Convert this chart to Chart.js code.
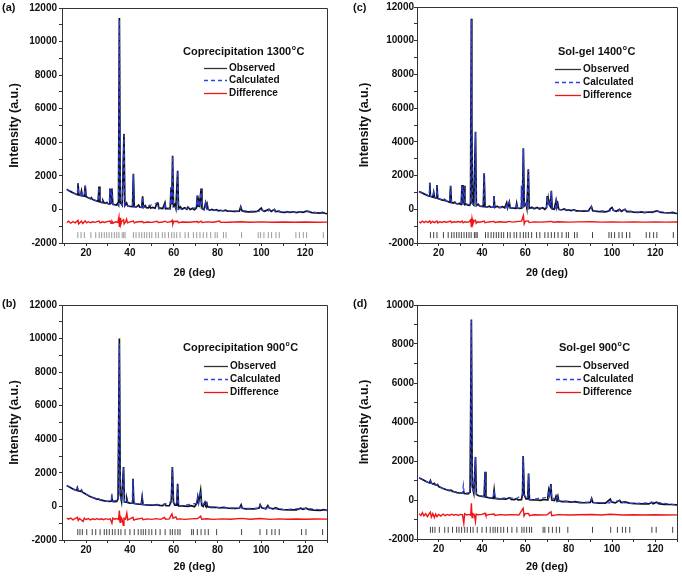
<!DOCTYPE html>
<html>
<head>
<meta charset="utf-8">
<script src="https://cdn.jsdelivr.net/npm/chart.js@4.4.1/dist/chart.umd.min.js"></script>
<style>
body { margin: 0; background: #fff; width: 682px; height: 578px; position: relative; overflow: hidden; font-family: "Liberation Sans", Arial, sans-serif; }
canvas { position: absolute; }
.tag { position: absolute; font-weight: bold; font-size: 11px; color: #111; }
</style>
</head>
<body>
<canvas id="chartA" width="341" height="289" style="left:0;top:0"></canvas>
<canvas id="chartC" width="341" height="289" style="left:341px;top:0"></canvas>
<canvas id="chartB" width="341" height="289" style="left:0;top:289px"></canvas>
<canvas id="chartD" width="341" height="289" style="left:341px;top:289px"></canvas>
<div class="tag" style="left:2px;top:1px">(a)</div>
<div class="tag" style="left:353px;top:1px">(c)</div>
<div class="tag" style="left:2px;top:297px">(b)</div>
<div class="tag" style="left:353px;top:297px">(d)</div>
<script>
// --------------------------------
// Data: [2theta (deg), intensity (a.u.)]
// --------------------------------

// (a) Coprecipitation 1300 C
const obsA = [[11.2,1200],[12,1120],[13,1060],[14,990],[15,930],[15.9,880],[16.3,1560],[16.7,860],[17.5,830],[17.9,1100],[18.3,800],[19.2,790],[19.6,1420],[20,760],[21,700],[22,640],[22.4,700],[22.8,610],[23.5,560],[24.5,520],[25.5,480],[25.9,1360],[26.3,450],[27.3,410],[27.7,520],[28.2,390],[29,360],[29.5,420],[30,340],[30.5,330],[30.9,1250],[31.3,320],[31.8,1250],[32.2,300],[33,280],[33.8,260],[34.3,350],[34.8,250],[35.2,11400],[35.6,400],[36,350],[36.5,250],[37.3,4500],[37.7,230],[38.5,380],[39,200],[40,180],[41.2,170],[41.6,2120],[42,160],[43,150],[44,260],[44.5,140],[45.4,130],[45.8,780],[46.2,120],[47,220],[47.5,100],[48.5,90],[49,200],[49.5,80],[50.5,120],[51.5,70],[52.4,380],[52.8,410],[53.2,60],[54,80],[55,50],[56,400],[56.4,40],[57.5,60],[58.4,40],[58.8,1320],[59.1,300],[59.5,3200],[59.9,200],[60.5,300],[61,60],[61.8,2300],[62.2,40],[63,150],[63.8,20],[65,100],[66,10],[66.5,130],[67.5,0],[68.5,60],[69.5,-10],[70.4,100],[70.8,830],[71.1,200],[71.5,500],[71.9,300],[72.5,1250],[72.9,50],[73.8,-20],[74.6,400],[75,150],[75.3,300],[75.7,0],[76.5,-40],[77.5,0],[78.5,-60],[79.5,-20],[80.5,-80],[81.5,-50],[82.5,-90],[83.5,-40],[84.5,-100],[86,-110],[88,-120],[90,-100],[90.6,160],[91.2,-80],[92.5,-130],[94,-140],[96,-150],[98,-120],[99,-30],[99.5,30],[100,80],[100.5,-50],[101.5,-110],[103,-20],[103.5,10],[104.5,-120],[106,0],[106.5,-130],[108,-100],[109,-160],[111,-170],[112,-130],[113,-180],[114.5,-140],[116,-190],[117.5,-140],[119,-180],[120.5,-100],[121.5,-120],[123,-190],[125,-200],[127,-220],[128,-180],[129,-230],[130,-260]];
const calcA = [[11.2,1180],[13,1050],[15,930],[15.9,880],[16.3,1540],[16.7,860],[17.5,830],[17.9,1080],[18.3,800],[19.2,780],[19.6,1400],[20,760],[22,640],[22.4,690],[22.8,610],[25.5,480],[25.9,1340],[26.3,450],[27.3,410],[27.7,500],[28.2,390],[30.5,330],[30.9,1230],[31.3,320],[31.8,1240],[32.2,300],[34.8,250],[35.2,11300],[35.6,400],[36.5,250],[37.3,4450],[37.7,230],[38.5,340],[39,200],[41.2,170],[41.6,2100],[42,160],[45.4,130],[45.8,760],[46.2,120],[52.4,370],[52.8,400],[53.2,60],[55.6,50],[56,390],[56.4,40],[58.4,40],[58.8,1300],[59.1,300],[59.5,3180],[59.9,200],[61.4,60],[61.8,2280],[62.2,40],[70.4,100],[70.8,820],[71.1,200],[71.5,490],[71.9,300],[72.5,1230],[72.9,50],[74.2,-10],[74.6,390],[75,150],[75.3,290],[75.7,0],[80,-70],[90,-100],[90.6,150],[91.2,-80],[99,-120],[100,70],[100.5,-50],[103,-110],[103.5,0],[104.5,-120],[106,-10],[106.5,-130],[115,-170],[120.5,-110],[121.5,-130],[130,-250]];
const diffA = [[11.2,-780],[12,-700],[13,-820],[14,-720],[15,-800],[16.3,-650],[16.6,-860],[17.9,-700],[18.5,-840],[19.6,-680],[20.2,-800],[21,-730],[22,-790],[23,-740],[24,-770],[25.9,-700],[26.4,-800],[27.5,-740],[28.5,-780],[29.5,-730],[30.9,-690],[31.4,-830],[31.8,-700],[32.4,-810],[33.5,-740],[34.5,-770],[35,-450],[35.2,-1050],[35.5,-500],[35.8,-900],[36.3,-700],[37.1,-620],[37.4,-860],[38,-750],[38.5,-580],[38.9,-800],[40,-740],[41.6,-690],[42,-800],[43,-750],[45.8,-720],[46.2,-790],[48,-750],[50,-770],[52.4,-710],[53,-780],[55,-750],[56,-700],[57,-770],[58.8,-720],[59.3,-650],[59.6,-880],[60,-720],[61.8,-700],[62.2,-790],[64,-750],[67,-760],[70.8,-720],[71.2,-790],[72.5,-700],[73,-780],[75,-740],[78,-760],[81,-690],[81.4,-770],[85,-760],[90.6,-730],[95,-760],[100,-740],[105,-760],[110,-750],[115,-760],[120,-745],[125,-760],[130,-755]];

// (c) Sol-gel 1400 C
const obsC = [[10.9,1050],[12,990],[13,930],[14,870],[15,810],[15.6,780],[15.9,1580],[16.2,770],[17.3,720],[17.7,1000],[18.1,690],[18.8,660],[19.2,1440],[19.6,640],[20.5,600],[21.5,560],[22.5,520],[22.8,560],[23.5,490],[24.5,450],[25.1,420],[25.5,1400],[25.9,400],[26.8,370],[27.5,420],[28,340],[29,320],[29.5,360],[30,300],[30.4,290],[30.8,1440],[31.2,280],[31.7,1400],[32.1,270],[33,300],[33.5,250],[34.3,240],[34.7,350],[35.1,11300],[35.3,5400],[35.6,350],[36.2,260],[37,4600],[37.4,220],[38.2,300],[39,180],[40,170],[40.6,160],[41,2140],[41.4,150],[42.5,140],[43.5,180],[44,130],[45.1,120],[45.5,780],[45.9,110],[47,180],[48,100],[49.5,150],[50.5,90],[51.4,390],[51.8,90],[52.6,430],[53,80],[54.5,70],[55.6,60],[56,350],[56.4,60],[57.5,50],[58,60],[58.3,1400],[58.6,100],[59.1,3620],[59.5,200],[60.3,350],[60.7,80],[61.4,2380],[61.8,50],[63,120],[64,30],[65.5,110],[66.5,20],[68,90],[69,0],[69.8,100],[70.1,780],[70.4,300],[70.6,580],[70.9,300],[71.6,150],[72,1100],[72.4,30],[73.3,0],[74.2,510],[74.6,150],[75,300],[75.4,0],[76.5,-40],[78,20],[79,-60],[80,-30],[81,-80],[82.5,-40],[83.5,-90],[85,-100],[87,-110],[89,-100],[90.5,160],[91.1,-90],[93,-130],[95,-140],[97,-150],[98.5,-100],[99.3,40],[100,100],[100.6,-60],[102,-120],[103.5,0],[104.3,-120],[106,0],[106.8,-140],[108.5,-130],[110,-170],[112,-190],[113.5,-150],[115,-200],[117,-160],[118.5,-180],[120,-120],[121,-90],[122,-170],[124,-200],[126,-220],[128,-190],[129,-230],[130,-250]];
const calcC = [[10.9,1040],[13,930],[15,810],[15.6,780],[15.9,1560],[16.2,770],[17.3,720],[17.7,980],[18.1,690],[18.8,660],[19.2,1420],[19.6,640],[22.4,530],[22.8,550],[23.2,510],[25.1,420],[25.5,1380],[25.9,400],[27.5,400],[28,340],[30.4,290],[30.8,1420],[31.2,280],[31.7,1380],[32.1,270],[34.7,300],[35.1,11250],[35.3,5400],[35.6,350],[36.6,240],[37,4580],[37.4,220],[38.2,280],[39,180],[40.6,160],[41,2120],[41.4,150],[45.1,120],[45.5,770],[45.9,110],[51,90],[51.4,380],[51.8,90],[52.6,420],[53,80],[55.6,60],[56,340],[56.4,60],[58,60],[58.3,1380],[58.6,100],[59.1,3600],[59.5,200],[60.3,330],[60.7,80],[61.4,2360],[61.8,50],[69.8,100],[70.1,770],[70.4,300],[70.6,570],[70.9,300],[71.6,150],[72,1090],[72.4,30],[73.8,0],[74.2,500],[74.6,150],[75,290],[75.4,0],[82,-60],[90,-100],[90.5,150],[91.1,-90],[99,-110],[100,90],[100.6,-60],[103,-120],[103.5,-10],[104.3,-120],[106,-10],[106.8,-140],[115,-180],[120,-120],[121,-100],[122,-170],[130,-250]];
const diffC = [[10.9,-740],[11.7,-800],[12.5,-700],[13.3,-790],[14.1,-710],[15,-780],[15.9,-690],[16.3,-820],[17.2,-720],[18,-790],[19.2,-700],[19.6,-810],[20.5,-740],[21.5,-780],[22.5,-730],[23.5,-770],[24.5,-740],[25.5,-700],[25.9,-790],[27,-740],[28,-770],[29,-730],[30,-770],[30.8,-700],[31.3,-800],[32,-740],[33,-770],[34,-750],[34.8,-620],[35.1,-1060],[35.4,-560],[35.8,-880],[36.3,-700],[37,-650],[37.3,-830],[38,-740],[39,-770],[41,-700],[41.4,-800],[43,-750],[45.5,-720],[46,-780],[48,-740],[51,-770],[52.6,-720],[54,-760],[56,-730],[58.3,-700],[59.1,-380],[59.5,-860],[60,-700],[61.4,-690],[61.8,-790],[64,-750],[67,-760],[70,-740],[72,-720],[73,-770],[75,-740],[80,-760],[85,-745],[90.5,-740],[95,-760],[100,-745],[105,-760],[110,-750],[115,-760],[120,-750],[125,-760],[130,-755]];

// (b) Coprecipitation 900 C
const obsB = [[11.2,1250],[12,1180],[13,1110],[14,1040],[15,980],[15.7,950],[16,1100],[16.4,930],[17.5,900],[17.9,960],[18.3,850],[19,800],[20,720],[21,650],[22,580],[23,530],[24,480],[25,430],[25.7,450],[26.3,390],[27.5,360],[28.5,330],[29.5,310],[30.5,300],[31.4,310],[31.8,460],[32.2,300],[33,290],[34,300],[34.6,450],[35.2,10000],[35.6,700],[36.2,300],[37.1,2350],[37.5,260],[38.3,250],[38.6,450],[39,230],[40,200],[41,190],[41.4,1650],[41.8,180],[43,150],[44.5,130],[45.2,120],[45.6,560],[46,110],[47.5,90],[49,80],[50.5,70],[52.3,110],[53.5,60],[55,50],[56,150],[56.5,40],[58,40],[58.9,300],[59.4,2350],[59.9,250],[60.5,80],[61.4,80],[61.8,1350],[62.2,30],[63.5,30],[65,20],[66.5,0],[68,50],[69.5,-20],[70.6,200],[71,560],[71.4,250],[72.3,950],[72.8,50],[73.5,0],[74.3,250],[74.7,100],[75.1,200],[75.5,-20],[77,-60],[79,-50],[81,-90],[83,-60],[85,-110],[87.5,-120],[90,-110],[90.8,100],[91.3,-110],[93,-140],[95,-150],[97,-150],[99,-100],[99.5,100],[100.2,-80],[102,-140],[103,50],[103.7,-100],[105.5,-150],[106.5,-80],[108,-160],[110,-190],[113,-200],[116,-210],[118,-110],[119,-170],[120.5,-100],[121.5,-180],[124,-220],[127,-230],[128.5,-190],[130,-240]];
const calcB = [[11.2,1240],[13,1110],[15,980],[15.7,950],[16,1120],[16.4,930],[17.5,900],[17.9,1000],[18.3,850],[20,720],[22,580],[25,430],[25.7,460],[26.3,390],[30,300],[31.4,310],[31.8,760],[32.2,300],[34.6,420],[35.2,9700],[35.6,650],[36.4,280],[37.1,2300],[37.5,260],[38.3,240],[38.6,380],[39,230],[41,190],[41.4,1620],[41.8,180],[45.2,120],[45.6,550],[46,110],[52.3,100],[56,130],[58.9,290],[59.4,2320],[59.9,240],[61.4,80],[61.8,1330],[62.2,30],[70.6,190],[71,550],[71.4,240],[72.3,930],[72.8,50],[74.3,240],[74.7,100],[75.1,190],[75.5,-20],[82,-80],[90,-110],[90.8,90],[91.3,-110],[99,-110],[99.5,90],[100.2,-80],[102.5,-140],[103,40],[103.7,-100],[110,-190],[118,-120],[120.5,-110],[130,-240]];
const diffB = [[11.2,-700],[12,-760],[13,-690],[14,-800],[15,-720],[16,-650],[16.4,-830],[17,-720],[18,-820],[18.6,-900],[19.2,-700],[20,-780],[21,-720],[22,-800],[23,-740],[24,-780],[25,-720],[26,-780],[27,-740],[28,-790],[29,-730],[30,-770],[31,-740],[31.8,-1000],[32.2,-700],[33,-760],[34,-720],[34.8,-780],[35.2,-250],[35.5,-950],[35.9,-650],[36.5,-780],[37,-1120],[37.3,-700],[38,-760],[38.6,-400],[39,-800],[40,-740],[41.4,-650],[41.8,-820],[43,-760],[45.6,-700],[46,-790],[48,-740],[50,-770],[52,-730],[54,-770],[55.8,-660],[56.3,-760],[58,-740],[59.2,-450],[59.7,-700],[61,-620],[61.5,-760],[63,-740],[65,-770],[68,-740],[71,-720],[72.3,-580],[72.8,-760],[75,-730],[78,-770],[82,-740],[86,-760],[90.8,-710],[95,-760],[99.5,-720],[104,-770],[108,-740],[112,-760],[116,-745],[120,-760],[125,-750],[130,-755]];

// (d) Sol-gel 900 C
const obsD = [[11,1140],[12,1080],[13,1020],[14,960],[15,910],[15.8,880],[16.2,990],[16.6,860],[17.5,820],[18,850],[18.4,780],[19,760],[19.5,800],[20,690],[21,640],[22,590],[23,550],[24,510],[25,480],[25.7,500],[26.5,440],[27.5,410],[28.5,380],[29.5,360],[30.5,350],[31,360],[31.4,430],[31.8,340],[32.5,330],[33.5,320],[34.5,400],[35.1,9260],[35.5,700],[36.2,350],[37,2210],[37.4,280],[38.5,220],[40,180],[41,170],[41.4,1450],[41.8,150],[43,120],[44.5,100],[45.2,90],[45.6,510],[46,80],[47.5,60],[49,50],[51,40],[52.7,120],[53.5,30],[55,20],[56,80],[56.6,10],[58.2,20],[58.7,300],[59,2260],[59.5,250],[60.3,60],[61.1,60],[61.5,1360],[61.9,20],[63.5,10],[65,0],[67,-20],[68.5,30],[70,0],[70.4,150],[70.8,510],[71.2,300],[71.8,820],[72.2,0],[73.5,-30],[74.2,200],[74.6,80],[75,200],[75.4,-50],[77,-80],[79,-70],[81,-110],[83,-80],[85,-130],[88,-140],[90,-120],[90.6,80],[91.2,-130],[94,-160],[97,-160],[99.2,50],[99.8,-100],[101.5,-150],[103.5,-20],[104.2,-130],[106,-100],[108,-160],[111,-190],[114,-200],[117,-200],[118.3,-120],[119,-190],[120.5,-110],[121.5,-190],[124,-220],[127,-230],[130,-255]];
const calcD = [[11,1130],[13,1020],[15,910],[15.8,880],[16.2,1000],[16.6,860],[17.5,820],[18,860],[18.4,780],[19.5,790],[20,690],[23,550],[25.7,490],[26.5,440],[30.5,350],[31,360],[31.4,770],[31.8,340],[34.5,380],[35.1,9200],[35.5,650],[36.2,340],[37,2200],[37.4,280],[41,170],[41.4,1430],[41.8,150],[45.2,90],[45.6,500],[46,80],[52.7,110],[56,70],[58.7,280],[59,2240],[59.5,240],[61.1,60],[61.5,1350],[61.9,20],[70.4,140],[70.8,500],[71.2,290],[71.8,800],[72.2,0],[74.2,190],[74.6,80],[75,190],[75.4,-50],[82,-100],[90,-120],[90.6,70],[91.2,-130],[99,-150],[99.2,40],[99.8,-100],[103.5,-30],[104.2,-130],[110,-185],[118.3,-130],[120.5,-120],[130,-255]];
const diffD = [[11,-700],[11.8,-800],[12.5,-650],[13.2,-820],[14,-700],[14.8,-850],[15.5,-720],[16.2,-620],[16.6,-880],[17.3,-700],[18,-900],[18.6,-720],[19.2,-860],[20,-740],[21,-820],[22,-720],[23,-800],[24,-740],[25,-790],[26,-730],[27,-780],[28,-740],[29,-790],[30,-740],[31,-760],[31.6,-1190],[32,-700],[33,-770],[34,-740],[34.8,-780],[35.1,-170],[35.4,-900],[35.8,-700],[36.5,-760],[37,-1100],[37.3,-720],[38,-760],[40,-740],[41.4,-680],[41.8,-800],[43,-750],[45.6,-720],[46,-790],[48,-750],[51,-770],[54,-750],[57,-770],[59,-425],[59.4,-820],[60,-700],[61.5,-690],[61.9,-800],[64,-760],[67,-770],[70,-760],[71.8,-600],[72.2,-800],[75,-750],[80,-770],[85,-760],[90.6,-740],[95,-770],[99.2,-730],[105,-770],[110,-755],[115,-770],[120,-760],[125,-770],[130,-765]];

// Bragg reflection positions (tick marks under the difference curve)
const braggDense = [16.2,17.7,19.2,22.2,24.4,26,27.1,28.3,29.4,30.5,31.7,32.9,34,35,36.5,37.2,37.8,41.6,42.8,44.2,45.4,46.6,47.7,48.9,50,51.8,53,54.8,56,57.6,59.1,60.2,61.4,62.9,65.2,66.7,69,70.5,72,73.5,75.1,76.9,78.9,79.9,82.7,83.9,91,98.6,99.7,101.2,103.2,104.7,106.7,108.2,115.8,117.4,119.2,120.7,128.3];
const braggSparse = [16.2,17.2,18.3,20.3,22.8,24.4,26.4,28.3,29.4,30.6,32,33.2,34.7,35.9,37.8,40,42,43.8,45.1,46.1,47.2,48.7,50,51.8,53.8,56.1,58.4,59.4,60.6,61.9,62.9,68.2,69,70.8,72.5,74.3,75.8,79.6,91,99.4,102.5,104.8,106.3,108.2,118.4,120.4,128];
const braggLevel = -1530;

const seriesLabels = ['Observed', 'Calculated', 'Difference'];

const FONT = '"Liberation Sans", Arial, sans-serif';

function pts(arr){
    return arr.map(p => ({x: p[0], y: p[1]}));
}

// Legend drawn inside the plot area (title with superscript "o", then three rows)
const panelLegend = {
    id: 'panelLegend',
    afterDraw(chart, args, o){
        const ctx = chart.ctx;
        ctx.save();
        ctx.fillStyle = '#111';
        ctx.textBaseline = 'middle';
        ctx.textAlign = 'left';
        ctx.font = 'bold 11px ' + FONT;
        let x = o.titleX;
        ctx.fillText(o.title, x, o.titleY);
        x += ctx.measureText(o.title).width;
        ctx.font = 'bold 7px ' + FONT;
        ctx.fillText('o', x + 0.5, o.titleY - 4);
        x += ctx.measureText('o').width + 1;
        ctx.font = 'bold 11px ' + FONT;
        ctx.fillText('C', x, o.titleY);

        ctx.font = 'bold 10px ' + FONT;
        for(let i = 0; i < 3; i++){
            const ds = chart.data.datasets[i];
            const y = o.rows[i];
            ctx.beginPath();
            ctx.strokeStyle = i === 0 ? '#333' : ds.borderColor;
            ctx.lineWidth = 1.3;
            ctx.setLineDash(ds.borderDash || []);
            ctx.moveTo(o.lineX0, y + 0.5);
            ctx.lineTo(o.lineX1, y + 0.5);
            ctx.stroke();
            ctx.setLineDash([]);
            ctx.fillStyle = '#111';
            ctx.fillText(ds.label, o.labelX, y);
        }
        ctx.restore();
    }
};

// Closes the plot box on the top and right sides
const frameBox = {
    id: 'frameBox',
    afterDraw(chart){
        const a = chart.chartArea;
        const ctx = chart.ctx;
        ctx.save();
        ctx.strokeStyle = '#333';
        ctx.lineWidth = 1;
        ctx.beginPath();
        ctx.moveTo(Math.round(a.left), Math.round(a.top) + 0.5);
        ctx.lineTo(Math.round(a.right) + 0.5, Math.round(a.top) + 0.5);
        ctx.lineTo(Math.round(a.right) + 0.5, Math.round(a.bottom));
        ctx.stroke();
        ctx.restore();
    }
};

function makePanel(id, p){
    const ctx = document.getElementById(id).getContext('2d');
    return new Chart(ctx, {
        type: 'scatter',
        data: {
            datasets: [
                {
                    label: seriesLabels[0],
                    data: pts(p.obs),
                    showLine: true,
                    borderColor: '#111',
                    borderWidth: 1.7,
                    pointRadius: 0,
                    order: 1
                },
                {
                    label: seriesLabels[1],
                    data: pts(p.calc),
                    showLine: true,
                    borderColor: 'rgb(45, 65, 235)',
                    borderWidth: 1.2,
                    borderDash: [4, 3],
                    pointRadius: 0,
                    order: 0
                },
                {
                    label: seriesLabels[2],
                    data: pts(p.diff),
                    showLine: true,
                    borderColor: 'rgb(240, 20, 20)',
                    borderWidth: 1.4,
                    pointRadius: 0,
                    order: 2
                },
                {
                    label: 'Bragg',
                    data: p.bragg.map(v => ({x: v, y: braggLevel})),
                    showLine: false,
                    pointStyle: 'line',
                    rotation: 90,
                    pointRadius: 3,
                    pointBorderWidth: 1,
                    borderColor: p.braggColor,
                    order: 3
                }
            ]
        },
        options: {
            responsive: false,
            animation: false,
            events: [],
            layout: {
                padding: {top: p.padTop, right: p.padRight, left: 0, bottom: 0}
            },
            plugins: {
                legend: {display: false},
                tooltip: {enabled: false},
                panelLegend: p.legend
            },
            scales: {
                x: {
                    type: 'linear',
                    min: p.xMin,
                    max: 130,
                    afterFit: s => { s.height = p.xHeight; },
                    border: {display: true, color: '#333', width: 1},
                    grid: {display: true, drawOnChartArea: false, drawTicks: true, tickLength: 3, color: '#333'},
                    ticks: {
                        stepSize: 10,
                        includeBounds: false,
                        autoSkip: false,
                        maxRotation: 0,
                        padding: 1,
                        color: '#111',
                        font: {family: FONT, size: 10, weight: 'bold'},
                        callback: v => (v % 20 === 0 ? String(v) : '')
                    },
                    title: {
                        display: true,
                        text: '2θ (deg)',
                        color: '#111',
                        font: {family: FONT, size: 11, weight: 'bold'},
                        padding: {top: 0, bottom: p.xTitlePad}
                    }
                },
                y: {
                    type: 'linear',
                    min: -2000,
                    max: p.yMax,
                    afterFit: s => { s.width = p.yWidth; },
                    border: {display: true, color: '#333', width: 1},
                    grid: {display: true, drawOnChartArea: false, drawTicks: true, tickLength: 3, color: '#333'},
                    ticks: {
                        stepSize: 1000,
                        autoSkip: false,
                        padding: p.yTickPad,
                        color: '#111',
                        font: {family: FONT, size: 10, weight: 'bold'},
                        callback: v => (v % 2000 === 0 ? String(v) : '')
                    },
                    title: {
                        display: true,
                        text: 'Intensity (a.u.)',
                        color: '#111',
                        font: {family: FONT, size: 12.5, weight: 'bold'},
                        padding: {top: p.yTitlePad, bottom: 0}
                    }
                }
            }
        },
        plugins: [panelLegend, frameBox]
    });
}

makePanel('chartA', {
    obs: obsA, calc: calcA, diff: diffA, bragg: braggDense, braggColor: '#9a9a9a',
    xMin: 9, yMax: 12000, padTop: 7, padRight: 14, xHeight: 46, yWidth: 62,
    xTitlePad: 9, yTitlePad: 7, yTickPad: 2,
    legend: {title: 'Coprecipitation 1300', titleX: 183, titleY: 52, lineX0: 204, lineX1: 227, labelX: 229, rows: [68, 80, 93]}
});

makePanel('chartC', {
    obs: obsC, calc: calcC, diff: diffC, bragg: braggDense, braggColor: '#444',
    xMin: 10, yMax: 12000, padTop: 7, padRight: 2, xHeight: 46, yWidth: 76,
    xTitlePad: 9, yTitlePad: 16, yTickPad: 0,
    legend: {title: 'Sol-gel 1400', titleX: 217, titleY: 52, lineX0: 214, lineX1: 240, labelX: 242, rows: [69, 82, 95]}
});

makePanel('chartB', {
    obs: obsB, calc: calcB, diff: diffB, bragg: braggSparse, braggColor: '#444',
    xMin: 9, yMax: 12000, padTop: 16, padRight: 14, xHeight: 38, yWidth: 62,
    xTitlePad: 4, yTitlePad: 7, yTickPad: 2,
    legend: {title: 'Coprecipitation 900', titleX: 183, titleY: 59, lineX0: 204, lineX1: 228, labelX: 230, rows: [77, 90, 103]}
});

makePanel('chartD', {
    obs: obsD, calc: calcD, diff: diffD, bragg: braggSparse, braggColor: '#444',
    xMin: 10, yMax: 10000, padTop: 16, padRight: 2, xHeight: 39, yWidth: 76,
    xTitlePad: 4, yTitlePad: 16, yTickPad: 0,
    legend: {title: 'Sol-gel 900', titleX: 218, titleY: 59, lineX0: 215, lineX1: 240, labelX: 242, rows: [77, 90, 103]}
});
</script>
</body>
</html>
